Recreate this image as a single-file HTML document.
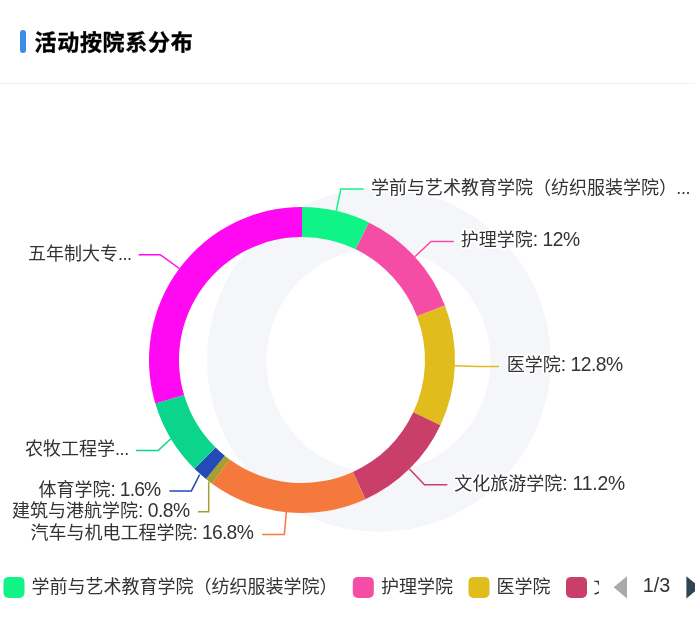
<!DOCTYPE html>
<html lang="zh-CN">
<head>
<meta charset="utf-8">
<title>活动按院系分布</title>
<style>
html,body{margin:0;padding:0;background:#fff;}
body{width:695px;height:633px;overflow:hidden;position:relative;font-family:"Liberation Sans","Noto Sans CJK SC",sans-serif;}
.bar{position:absolute;left:20px;top:30px;width:6px;height:22.5px;border-radius:3px;background:#3c8ce7;}
.title{position:absolute;left:34.5px;top:27.5px;height:30px;line-height:30px;font-size:22px;font-weight:bold;color:#000;letter-spacing:0.7px;-webkit-text-stroke:0.35px #000;white-space:nowrap;}
.hr{position:absolute;left:0;top:83px;width:695px;height:1px;background:#f0f1f2;}
svg{position:absolute;left:0;top:0;}
svg text{font-family:"Liberation Sans","Noto Sans CJK SC",sans-serif;font-size:18px;fill:#333;}
.lb text{paint-order:stroke;stroke:#fff;stroke-width:3.5px;stroke-linejoin:round;}
.ll polyline{fill:none;stroke-width:1.5;}
</style>
</head>
<body>
<div class="bar"></div>
<div class="title">活动按院系分布</div>
<div class="hr"></div>
<svg width="695" height="633" viewBox="0 0 695 633">
<defs><clipPath id="lg"><rect x="0" y="570" width="599" height="36"/></clipPath></defs>
<path d="M378.9 188.2a171.8 171.8 0 1 0 0.01 0ZM378.5 248.4a112 112 0 1 1 -0.01 0Z" fill="#f5f6fa" fill-rule="evenodd"/>
<g class="pie">
<path d="M302.00 207.00A153 153 0 0 1 368.88 222.39L355.77 249.37A123 123 0 0 0 302.00 237.00Z" fill="#10f487"/>
<path d="M368.88 222.39A153 153 0 0 1 444.95 305.47L416.92 316.16A123 123 0 0 0 355.77 249.37Z" fill="#f54ca6"/>
<path d="M444.95 305.47A153 153 0 0 1 440.44 425.14L413.29 412.37A123 123 0 0 0 416.92 316.16Z" fill="#e0bc1c"/>
<path d="M440.44 425.14A153 153 0 0 1 365.40 499.25L352.97 471.94A123 123 0 0 0 413.29 412.37Z" fill="#ca3f6a"/>
<path d="M365.40 499.25A153 153 0 0 1 212.07 483.78L229.70 459.51A123 123 0 0 0 352.97 471.94Z" fill="#f5793c"/>
<path d="M212.07 483.78A153 153 0 0 1 205.96 479.10L224.79 455.75A123 123 0 0 0 229.70 459.51Z" fill="#a59f2d"/>
<path d="M205.96 479.10A153 153 0 0 1 194.49 468.86L215.57 447.52A123 123 0 0 0 224.79 455.75Z" fill="#244bb5"/>
<path d="M194.49 468.86A153 153 0 0 1 155.35 403.61L184.10 395.06A123 123 0 0 0 215.57 447.52Z" fill="#0bd48b"/>
<path d="M155.35 403.61A153 153 0 0 1 302.00 207.00L302.00 237.00A123 123 0 0 0 184.10 395.06Z" fill="#ff08f2"/>
</g>
<g class="ll">
<polyline points="336.3,210.9 340.8,189 363.7,189" stroke="#10f487"/>
<polyline points="414.8,256.7 431.1,241.5 453.9,241.5" stroke="#f54ca6"/>
<polyline points="454.9,365.8 477,366.6 499,366.6" stroke="#e0bc1c"/>
<polyline points="409.5,468.9 424.5,484.8 447.3,484.8" stroke="#ca3f6a"/>
<polyline points="286.4,512 284.3,534.5 262.2,534.5" stroke="#f5793c"/>
<polyline points="208.7,481.5 208.7,511.8 197.9,511.8" stroke="#a59f2d"/>
<polyline points="199.6,474.7 191.4,490.9 169.4,490.9" stroke="#244bb5"/>
<polyline points="170.8,438.7 158.2,450.5 136,450.5" stroke="#0bd48b"/>
<polyline points="179.4,268.5 160.2,254.7 138.6,254.7" stroke="#ff08f2"/>
</g>
<g class="lb">
<text x="371" y="194.2">学前与艺术教育学院（纺织服装学院）<tspan dx="-0.8" letter-spacing="-0.3" font-size="18">...</tspan></text>
<text x="460.8" y="245.5">护理学院<tspan dx="0" letter-spacing="-0.5" font-size="19.3">: 12%</tspan></text>
<text x="506.8" y="370.8">医学院<tspan dx="0" letter-spacing="-0.5" font-size="19.3">: 12.8%</tspan></text>
<text x="454.3" y="489.5">文化旅游学院<tspan dx="0" letter-spacing="-0.2" font-size="19.3">: 11.2%</tspan></text>
<text x="30.6" y="538.5">汽车与机电工程学院<tspan dx="0" letter-spacing="-0.7" font-size="19.3">: 16.8%</tspan></text>
<text x="12.0" y="516.5">建筑与港航学院<tspan dx="0" letter-spacing="-0.5" font-size="19.3">: 0.8%</tspan></text>
<text x="38.6" y="495.5">体育学院<tspan dx="0" letter-spacing="-0.8" font-size="19.3">: 1.6%</tspan></text>
<text x="25.0" y="454.5">农牧工程学<tspan dx="0" letter-spacing="-0.4" font-size="18">...</tspan></text>
<text x="27.9" y="259.5">五年制大专<tspan dx="0" letter-spacing="-0.4" font-size="18">...</tspan></text>
</g>
<g class="legend">
<g clip-path="url(#lg)">
<rect x="3.500" y="576.900" width="21" height="21" rx="5" fill="#10f487"/>
<text x="31.6" y="592.6">学前与艺术教育学院（纺织服装学院）</text>
<rect x="352.800" y="576.900" width="21" height="21" rx="5" fill="#f54ca6"/>
<text x="381" y="592.6">护理学院</text>
<rect x="468.500" y="576.900" width="21" height="21" rx="5" fill="#e0bc1c"/>
<text x="496.6" y="592.6">医学院</text>
<rect x="566" y="576.900" width="21" height="21" rx="5" fill="#ca3f6a"/>
<text x="593.5" y="592.6">文化旅游学院</text>
</g>
<path d="M613.600 587.300L627 576.200V598.400Z" fill="#aaaaaa"/>
<text x="642.8" y="592.4" style="font-size:19.8px">1/3</text>
<path d="M699.800 587.300L686.400 576.200V598.400Z" fill="#2f4554"/>
</g>
</svg>
</body>
</html>
